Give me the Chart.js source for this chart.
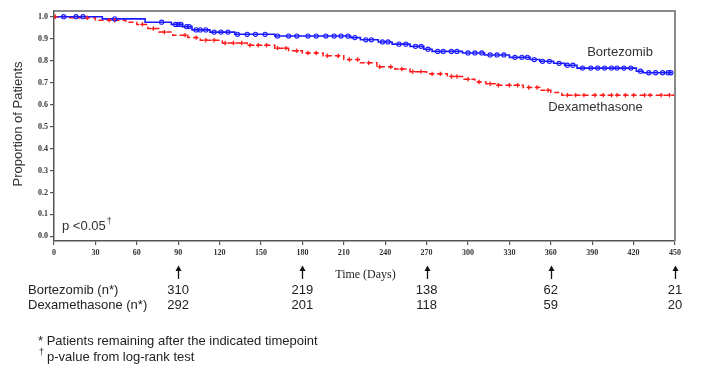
<!DOCTYPE html>
<html><head><meta charset="utf-8">
<script src="https://cdn.jsdelivr.net/npm/chart.js@4/dist/chart.umd.min.js"></script>
<style>html,body{margin:0;padding:0;background:#fff}#wrap{width:702px;height:374px}</style>
</head><body><div id="wrap"><canvas id="c" width="702" height="374"></canvas></div>
<script>
// ---- data ----
const xTickValues = [0,30,60,90,120,150,180,210,240,270,300,330,360,390,420,450];
const yTickValues = [0,0.1,0.2,0.3,0.4,0.5,0.6,0.7,0.8,0.9,1.0];

const bortDays = [0,35,66,85,93,100,113,131,160,215,222,235,245,258,268,274,296,312,330,345,352,362,370,379,422,427,448];
const bortSurv = [1.0,0.99,0.975,0.965,0.955,0.94,0.93,0.92,0.912,0.905,0.895,0.885,0.875,0.865,0.852,0.842,0.835,0.826,0.815,0.805,0.797,0.788,0.779,0.766,0.752,0.745,0.745];

const dexDays = [0,10,30,52,60,68,76,86,97,106,122,140,160,170,180,195,210,222,234,247,258,270,285,296,305,313,320,340,352,360,368,451];
const dexSurv = [1.0,0.995,0.984,0.975,0.965,0.946,0.93,0.916,0.905,0.893,0.88,0.87,0.857,0.845,0.835,0.822,0.805,0.79,0.772,0.762,0.75,0.74,0.728,0.715,0.703,0.695,0.688,0.678,0.665,0.655,0.643,0.643];

const bortCensor = [7,16,21,44,78,88,90,92,96,98,103,106,110,116,121,126,133,140,146,153,162,170,176,184,190,197,203,208,213,218,226,230,238,242,250,255,262,266,271,278,282,288,292,300,305,310,316,321,326,334,339,343,348,354,359,366,372,376,383,389,394,399,404,408,413,418,425,431,436,441,445,447];
const dexCensor = [1,24,40,44,64,72,80,95,103,110,116,124,130,136,142,148,154,162,168,176,184,190,198,206,214,220,228,236,244,252,260,266,274,280,288,292,300,308,316,322,330,336,344,350,358,372,378,384,392,398,404,408,414,420,428,432,440,446,450];

const riskDays = [90,180,270,360,450];
const bortAtRisk = [310,219,138,62,21];
const dexAtRisk = [292,201,118,59,20];

// ---- helpers ----
function survAt(days, surv, t){ let v = surv[0]; for(let i=0;i<days.length;i++){ if(days[i]<=t) v=surv[i]; } return v; }
const bortLine = bortDays.map((d,i)=>({x:d,y:bortSurv[i]}));
const dexLine = dexDays.map((d,i)=>({x:d,y:dexSurv[i]}));
const bortMarks = bortCensor.map(d=>({x:d,y:survAt(bortDays,bortSurv,d)}));
const dexMarks = dexCensor.map(d=>({x:d,y:survAt(dexDays,dexSurv,d)}));

const BLUE = '#1a1aff', RED = '#ff1a1a', TXT = '#333';

const overlay = {
  id:'overlay',
  afterDraw(chart){
    const {ctx, chartArea:a, scales:{x,y}} = chart;
    ctx.save();
    // frame top & right
    ctx.strokeStyle = '#888'; ctx.lineWidth = 2;
    ctx.beginPath(); ctx.moveTo(a.left, a.top); ctx.lineTo(a.right, a.top); ctx.lineTo(a.right, a.bottom); ctx.stroke();
    // y title
    ctx.fillStyle = TXT; ctx.font = '13px "Liberation Sans", Arial, sans-serif';
    ctx.textAlign='center'; ctx.textBaseline='middle';
    ctx.save(); ctx.translate(18,124); ctx.rotate(-Math.PI/2); ctx.fillText('Proportion of Patients',0,0); ctx.restore();
    // series labels
    ctx.fillText('Bortezomib', 620, 52);
    ctx.fillText('Dexamethasone', 595.5, 107);
    // p-value
    ctx.textAlign='left';
    ctx.fillText('p <0.05', 62, 226);
    const pw = ctx.measureText('p <0.05').width;
    ctx.font = '9px "Liberation Sans", Arial, sans-serif';
    ctx.fillText('†', 62+pw+1, 222);
    // x title
    ctx.font = '12px "Liberation Serif", "Times New Roman", serif';
    ctx.textAlign='center'; ctx.fillStyle='#222';
    ctx.fillText('Time (Days)', 365.5, 275);
    // arrows and at-risk numbers
    ctx.strokeStyle='#111'; ctx.fillStyle='#111'; ctx.lineWidth=1.3;
    riskDays.forEach((d,i)=>{
      const px = Math.round(x.getPixelForValue(d))+0.5;
      ctx.beginPath(); ctx.moveTo(px,270); ctx.lineTo(px,279); ctx.stroke();
      ctx.beginPath(); ctx.moveTo(px,265.5); ctx.lineTo(px-3,271); ctx.lineTo(px+3,271); ctx.closePath(); ctx.fill();
    });
    ctx.fillStyle='#222'; ctx.font = '13px "Liberation Sans", Arial, sans-serif';
    riskDays.forEach((d,i)=>{
      const px = x.getPixelForValue(d);
      ctx.fillText(String(bortAtRisk[i]), px, 290);
      ctx.fillText(String(dexAtRisk[i]), px, 305);
    });
    ctx.textAlign='left';
    ctx.fillText('Bortezomib (n*)', 28, 290);
    ctx.fillText('Dexamethasone (n*)', 28, 305);
    // footnotes
    ctx.fillText('* Patients remaining after the indicated timepoint', 38, 341);
    ctx.font = '9px "Liberation Sans", Arial, sans-serif';
    ctx.fillText('†', 39, 353);
    ctx.font = '13px "Liberation Sans", Arial, sans-serif';
    ctx.fillText('p-value from log-rank test', 47, 357);
    ctx.restore();
  }
};

new Chart(document.getElementById('c'), {
  type:'line',
  data:{datasets:[
    {label:'Bortezomib', data:bortLine, stepped:'before', borderColor:BLUE, borderWidth:1.6, pointRadius:0, fill:false, order:2},
    {label:'Dexamethasone', data:dexLine, stepped:'before', borderColor:RED, borderWidth:1.5, borderDash:[5,3], pointRadius:0, fill:false, order:3},
    {type:'scatter', data:bortMarks, showLine:false, pointStyle:'circle', pointRadius:2.1, borderColor:BLUE, backgroundColor:'rgba(255,255,255,0)', pointBorderWidth:1.1, order:0},
    {type:'scatter', data:dexMarks, showLine:false, pointStyle:'cross', pointRadius:2.2, borderColor:RED, backgroundColor:RED, pointBorderWidth:1.3, order:1}
  ]},
  options:{
    responsive:false, animation:false, devicePixelRatio:1,
    layout:{padding:{left:0, right:27, top:11, bottom:0}},
    plugins:{legend:{display:false}, tooltip:{enabled:false}},
    scales:{
      x:{type:'linear', min:0, max:450,
        afterBuildTicks(s){ s.ticks = xTickValues.map(v=>({value:v})); },
        afterFit(s){ s.height = 133; },
        grid:{drawOnChartArea:false, drawTicks:true, tickLength:4, color:'#555', lineWidth:1.2},
        border:{display:true, color:'#555', width:1.5},
        ticks:{font:{family:'"Liberation Serif", serif', size:8, weight:'bold'}, color:'#333', padding:3, maxRotation:0, autoSkip:false}
      },
      y:{type:'linear', min:-0.021, max:1.026,
        afterBuildTicks(s){ s.ticks = yTickValues.map(v=>({value:v})); },
        afterFit(s){ s.width = 54; },
        grid:{drawOnChartArea:false, drawTicks:true, tickLength:4, color:'#555', lineWidth:1.2},
        border:{display:true, color:'#555', width:1.5},
        ticks:{font:{family:'"Liberation Serif", serif', size:8, weight:'bold'}, color:'#333', padding:2, callback:v=>Number(v).toFixed(1)}
      }
    }
  },
  plugins:[overlay]
});
</script>
</body></html>
